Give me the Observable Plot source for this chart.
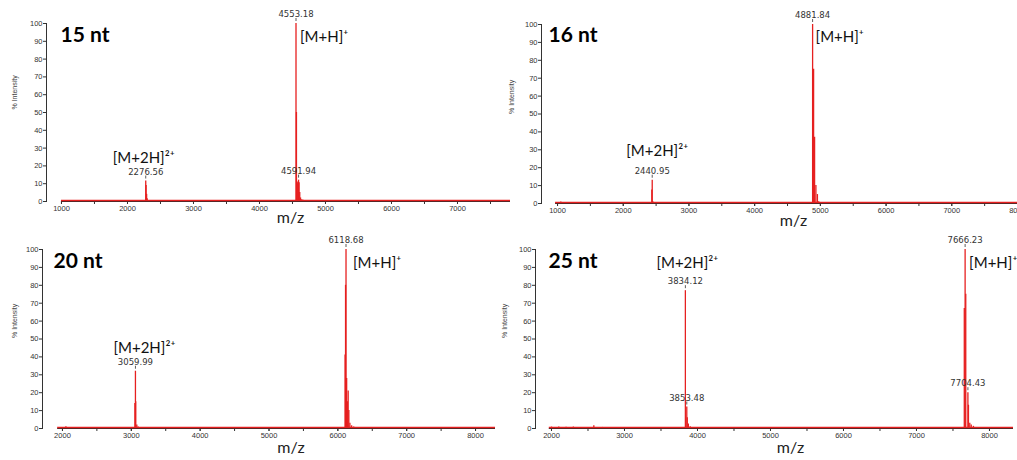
<!DOCTYPE html>
<html><head><meta charset="utf-8">
<script src="https://cdn.jsdelivr.net/npm/d3@7"></script>
<script src="https://cdn.jsdelivr.net/npm/@observablehq/plot@0.6"></script>
<style>
body{margin:0;background:#fff;}
#root{position:relative;width:1017px;height:460px;overflow:hidden;background:#fff;}
.panel{position:absolute;}
.panel svg{overflow:visible;}
</style></head><body><div id="root"></div>
<script>
// ---- data ----
const titles = ["15 nt", "16 nt", "20 nt", "25 nt"];
const xLabel = "m/z";
const yLabel = "% Intensity";
const yTicks = [0, 10, 20, 30, 40, 50, 60, 70, 80, 90, 100];
const xTicks15 = [1000, 2000, 3000, 4000, 5000, 6000, 7000];
const xTicks16 = [1000, 2000, 3000, 4000, 5000, 6000, 7000, 8000];
const xTicks20 = [2000, 3000, 4000, 5000, 6000, 7000, 8000];
const xTicks25 = [2000, 3000, 4000, 5000, 6000, 7000, 8000];

// spectra (m/z, % intensity)
const mz15  = [2276.56, 2282, 2290, 2298, 4553.18, 4560, 4572, 4580, 4591.94, 4600, 4610, 4622, 4640, 4660, 4690];
const int15 = [11.5,    9,    4,    1.5,  100,     50,   10,   11,   12,      10.5, 5,    2,    1,    0.7,  0.5];
const mz16  = [1050, 1200, 1250, 1650, 2435, 2440.95, 2450, 4881.84, 4897, 4912, 4932, 4955, 4975];
const int16 = [0.8,  0.5,  0.4,  0.3,  7.5,  13,      1,    100,     75,   37,   10,   5,    1];
const mz20  = [2050, 3052, 3059.99, 3064, 3080, 3100, 6105, 6112, 6118.68, 6128, 6138, 6150, 6160, 6175, 6200, 6230];
const int20 = [1,    14,   32,      15,   2,    0.8,  41,   80,   100,     28,   15,   21,   10,   3,    1.5,  0.8];
const mz25  = [2000, 2100, 2200, 2300, 2400, 2500, 2580, 2700, 2800, 2900, 3000, 3200, 3400, 3500,
               3834.12, 3853.48, 3860, 3875, 3900, 3950, 4000,
               7655, 7666.23, 7675, 7704.43, 7712, 7730, 7750, 7780, 7800];
const int25 = [0.8,  0.9,  0.7,  0.8,  0.6,  0.5,  1.6,  0.6,  0.5,  0.4,  0.5,  0.3,  0.4,  0.3,
               77,      12,      6,    2.5,  1,    0.6,  0.5,
               67,   100,     75,   20,      13,   3,    2,    1.2,  0.6];
// spectrum range (recorded m/z)
const rangeStart = [1000, 970, 1930, 1970];
const rangeEnd   = [7803, 8000, 8290, 8329];

// labelled peaks
const labMz15 = [2276.56, 4553.18, 4591.94], labInt15 = [11.5, 100, 12];
const labMz16 = [2440.95, 4881.84],          labInt16 = [13, 100];
const labMz20 = [3059.99, 6118.68],          labInt20 = [32, 100];
const labMz25 = [3834.12, 3853.48, 7666.23, 7704.43], labInt25 = [77, 12, 100, 20];

// ion assignments
const ion1Text = "[M+H]\u207A", ion2Text = "[M+2H]\u00B2\u207A";
const ion1Mz = [4553.18, 4881.84, 6118.68, 7666.23], ion1Int = [100, 100, 100, 100];
const ion2Mz = [2276.56, 2440.95, 3059.99, 3834.12], ion2Int = [11.5, 13, 32, 77];

// ---- layout (pixels) ----
const layout = [
  {left: 0,   top: 0,   width: 510, ml: 46, mr: 0, mt: 23, mb: 29, x0: 773,  ydx: -32, ydy: -3, tdx: 14, tdy: 4, i1dx: 4, i1dy: 14, i2dx: -2, i2dy: -23, mdx: 12, mdy: 21},
  {left: 505, top: 0,   width: 512, ml: 36, mr: 0, mt: 24, mb: 27, x0: 756,  ydx: -30, ydy: 0,  tdx: 7,  tdy: 3, i1dx: 3, i1dy: 13, i2dx: 5,  i2dy: -29, mdx: 14, mdy: 22},
  {left: 0,   top: 230, width: 500, ml: 42, mr: 5, mt: 19, mb: 32, x0: 1710, ydx: -28, ydy: -1, tdx: 11, tdy: 4, i1dx: 7, i1dy: 14, i2dx: 9,  i2dy: -23, mdx: 22, mdy: 24},
  {left: 505, top: 230, width: 512, ml: 30, mr: 4, mt: 19, mb: 32, x0: 1781, ydx: -31, ydy: -1, tdx: 13, tdy: 4, i1dx: 4, i1dy: 14, i2dx: 2,  i2dy: -27, mdx: 16, mdy: 24}
];

const spectra = [[mz15, int15], [mz16, int16], [mz20, int20], [mz25, int25]];
const labels = [[labMz15, labInt15], [labMz16, labInt16], [labMz20, labInt20], [labMz25, labInt25]];
const xTicksAll = [xTicks15, xTicks16, xTicks20, xTicks25];

const RED = "#e62020";
const INK = "#333";
const root = document.getElementById("root");

layout.forEach((c, i) => {
  const [mz, it] = spectra[i];
  const peaks = mz.map((m, j) => ({mz: m, y: it[j]}));
  const [lm, li] = labels[i];
  const lab = lm.map((m, j) => ({mz: m, y: li[j], t: m.toFixed(2)}));
  const dom = [c.x0, rangeEnd[i]];
  const majors = xTicksAll[i];
  const minors = d3.range(majors[0] - 500, dom[1] + 1, 500).filter(v => v >= dom[0]);
  const ion1 = [{mz: ion1Mz[i], y: ion1Int[i], t: ion1Text}];
  const ion2 = [{mz: ion2Mz[i], y: ion2Int[i], t: ion2Text}];

  const chart = Plot.plot({
    width: c.width, height: 230,
    marginLeft: c.ml, marginRight: c.mr, marginTop: c.mt, marginBottom: c.mb,
    style: {fontFamily: "'Liberation Sans', Arial, sans-serif", fontSize: "7.5px", color: INK, overflow: "visible", background: "transparent"},
    x: {domain: dom},
    y: {domain: [0, 100]},
    marks: [
      Plot.frame({anchor: "left", stroke: INK}),
      Plot.axisY({ticks: yTicks, tickSize: 3, tickPadding: 1, fontSize: 7.5, label: null}),
      Plot.text([yLabel], {frameAnchor: "left", rotate: -90, dx: c.ydx, dy: c.ydy, fontSize: 7, fill: "#444"}),
      Plot.axisX({ticks: minors, tickSize: 3, tickFormat: () => "", label: null}),
      Plot.axisX({ticks: majors, tickSize: 3, tickPadding: 1, fontSize: 7.5, tickFormat: d => String(d), label: null}),
      Plot.ruleY([0], {x1: rangeStart[i], x2: dom[1], stroke: "#2a2a2a", strokeWidth: 1}),
      Plot.ruleY([0], {x1: rangeStart[i], x2: dom[1], stroke: RED, strokeWidth: 1.4, dy: -1}),
      Plot.ruleX(peaks, {x: "mz", y1: 0, y2: "y", stroke: RED, strokeWidth: 1.3}),
      Plot.ruleX(lab, {x: "mz", y1: "y", y2: "y", insetTop: -5, insetBottom: 2, stroke: INK, strokeWidth: 0.8}),
      Plot.text(lab, {x: "mz", y: "y", text: "t", dy: -9, fontSize: 8.5, fill: INK, fontFamily: "'DejaVu Sans', sans-serif"}),
      Plot.text(ion1, {x: "mz", y: "y", text: "t", textAnchor: "start", dx: c.i1dx, dy: c.i1dy, fontSize: 15, fill: "#111", fontFamily: "Lato, sans-serif"}),
      Plot.text(ion2, {x: "mz", y: "y", text: "t", dx: c.i2dx, dy: c.i2dy, fontSize: 15, fill: "#111", fontFamily: "Lato, sans-serif"}),
      Plot.text([titles[i]], {frameAnchor: "top-left", dx: c.tdx, dy: c.tdy, lineAnchor: "top", fontSize: 21, fontWeight: "bold", fill: "#000", fontFamily: "Lato, sans-serif"}),
      Plot.text([xLabel], {frameAnchor: "bottom", dx: c.mdx, dy: c.mdy, fontSize: 16, fill: "#222", fontFamily: "Lato, sans-serif"})
    ]
  });
  const div = document.createElement("div");
  div.className = "panel";
  div.style.left = c.left + "px";
  div.style.top = c.top + "px";
  div.appendChild(chart);
  root.appendChild(div);
});
</script>
</body></html>
